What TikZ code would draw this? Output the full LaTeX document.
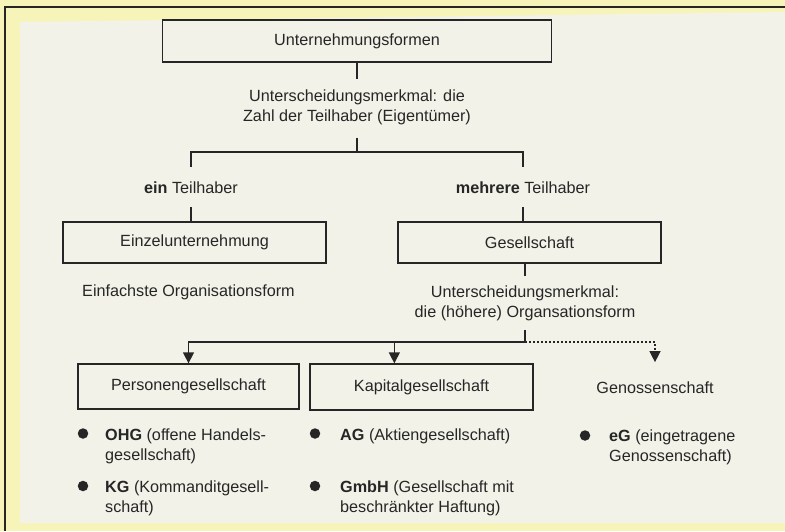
\documentclass[tikz,border=0pt]{standalone}
\usepackage{fontspec}
\setmainfont{Liberation Sans}
\usetikzlibrary{arrows.meta}
\definecolor{paper}{HTML}{F2F2E9}
\definecolor{band}{HTML}{F7F4BA}
\definecolor{ink}{HTML}{262626}
\begin{document}
\begin{tikzpicture}[x=1pt,y=-1pt,
  every node/.style={font=\fontsize{16.2}{20}\selectfont, text=ink},
  box/.style={draw=ink, line width=1.3pt, inner sep=0pt},
  one/.style={inner sep=0pt, text height=11.7pt, text depth=3.4pt},
  two/.style={inner sep=0pt, align=center},
  item/.style={inner sep=0pt, align=left, anchor=north west},
  link/.style={draw=ink, line width=1.3pt},
  arr/.style={link, -{Triangle[width=11pt,length=11pt]}},
  dotted link/.style={arr, dash pattern=on 2pt off 2pt},
  bul/.style={circle, fill=ink, minimum size=10.5pt, inner sep=0pt}]
% background
\useasboundingbox (0,0) rectangle (785,531);
\fill[band] (0,0) rectangle (785,531);
\fill[paper] (20,22) -- (785,12) -- (785,523) -- (20,523) -- cycle;
\draw[ink, line width=1.2pt] (5,531) -- (5,7) -- (785,7);

% top
\node[box, minimum width=389pt, minimum height=42pt] (top) at (357,41) {Unternehmungsformen};
\node[two] (crit1) at (357,107.1) {Unterscheidungsmerkmal: die\\Zahl der Teilhaber (Eigent\"umer)};
\coordinate (j1) at (357,152);
\node[one] (ein) at (191,188.9) {\textbf{ein} Teilhaber};
\node[one] (mehr) at (523,188.9) {\textbf{mehrere} Teilhaber};
\node[box, minimum width=263pt, minimum height=41pt] (einz) at (194.5,242.5) {Einzelunternehmung};
\node[box, minimum width=263pt, minimum height=41pt] (ges) at (529.5,242.5) {Gesellschaft};
\node[one, anchor=west] (einf) at (82,291.9) {Einfachste Organisationsform};
\node[two] (crit2) at (525,303.2) {Unterscheidungsmerkmal:\\die (h\"ohere) Organsationsform};
\coordinate (j2) at (525,342);
\node[box, minimum width=221pt, minimum height=45pt] (pers) at (188.5,386.5) {Personengesellschaft};
\node[box, minimum width=223pt, minimum height=46pt] (kap) at (421.5,387) {Kapitalgesellschaft};
\node[one] (gen) at (655,388.9) {Genossenschaft};

% connectors
\draw[link] (top.south) -- ([yshift=10.3pt]crit1.north);
\draw[link, shorten <=13pt] (crit1.south) -- (j1);
\draw[link, shorten >=14pt] (j1) -| (ein.north);
\draw[link, shorten >=14pt] (j1) -| (mehr.north);
\draw[link, shorten <=10.6pt] (ein.south) -- (ein.south |- einz.north);
\draw[link, shorten <=10.6pt] (mehr.south) -- (mehr.south |- ges.north);
\draw[link] (crit2.north |- ges.south) -- ([yshift=9.6pt]crit2.north);
\draw[link, shorten <=9.3pt] (crit2.south) -- (j2);
\draw[arr] (j2) -| (pers.north);
\draw[arr] (j2) -| ([xshift=85pt]kap.north west);
\draw[dotted link, shorten >=19pt] (j2) -| (gen.north);

% bullet items
\node[bul] (b1) at (83,433.5) {};
\node[item] (t1) at (105,428.3) {\textbf{OHG} (offene Handels-\\gesellschaft)};
\node[bul] (b2) at (83,486) {};
\node[item] (t2) at (105,480.3) {\textbf{KG} (Kommanditgesell-\\schaft)};
\node[bul] (b3) at (315,433.5) {};
\node[item] (t3) at (340,428.3) {\textbf{AG} (Aktiengesellschaft)};
\node[bul] (b4) at (315,486) {};
\node[item] (t4) at (340,480.3) {\textbf{GmbH} (Gesellschaft mit\\beschr\"ankter Haftung)};
\node[bul] (b5) at (585,435.5) {};
\node[item] (t5) at (609,430) {\textbf{eG} (eingetragene\\Genossenschaft)};
\end{tikzpicture}
\end{document}
